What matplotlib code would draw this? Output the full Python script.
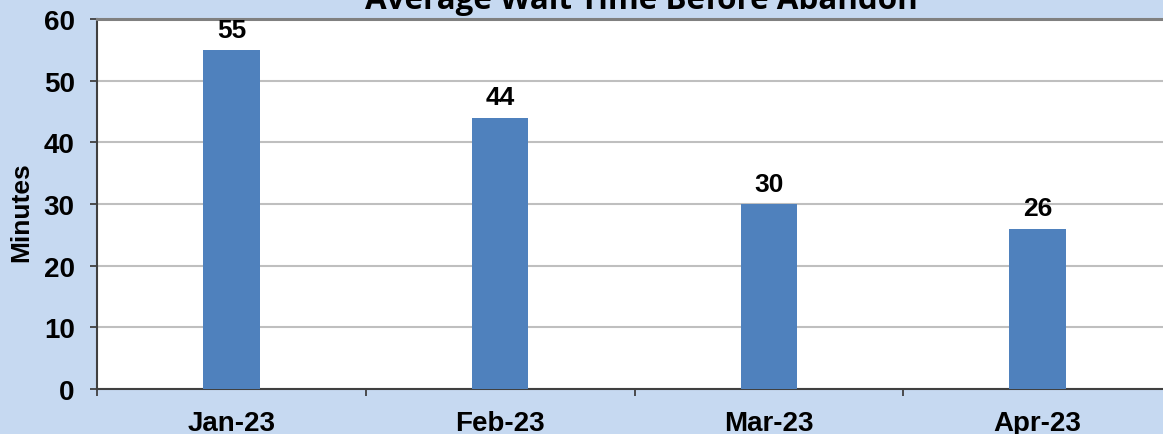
import matplotlib
matplotlib.use("Agg")
import matplotlib.pyplot as plt
from matplotlib.ticker import FixedLocator, NullFormatter

categories = ["Jan-23", "Feb-23", "Mar-23", "Apr-23"]
values = [55, 44, 30, 26]
yticks = [0, 10, 20, 30, 40, 50, 60]
title = "Average Wait Time Before Abandon"

W, H = 1163, 435
DPI = 100
bg = "#C6D9F1"
bar_color = "#4F81BD"

fig = plt.figure(figsize=(W / DPI, H / DPI), dpi=DPI, facecolor=bg)
ax = fig.add_axes([97 / W, 45 / H, 1075 / W, 370 / H])
ax.set_facecolor("white")

x = list(range(len(categories)))
ax.bar(x, values, width=0.21, color=bar_color, zorder=3)

ax.set_xlim(-0.5, len(categories) - 0.5)
ax.set_ylim(0, 60)
ax.set_yticks(yticks)
ax.set_yticklabels([str(v) for v in yticks], fontfamily="Liberation Sans",
                   fontweight="bold", fontsize=20)
ax.set_xticks(x)
ax.set_xticklabels(categories, fontfamily="Liberation Sans", fontweight="bold",
                   fontsize=20)
ax.tick_params(axis="x", which="major", length=0, pad=15)
ax.xaxis.set_minor_locator(FixedLocator([i - 0.5 for i in range(len(categories) + 1)]))
ax.xaxis.set_minor_formatter(NullFormatter())
ax.tick_params(axis="x", which="minor", length=5, width=1.3, color="#404040", direction="out")
ax.tick_params(axis="y", length=5, width=1.3, color="#404040", pad=11)

ax.grid(axis="y", color="#BFBFBF", linewidth=1.5, zorder=0)
ax.set_axisbelow(True)

for s in ["left", "bottom"]:
    ax.spines[s].set_color("#404040")
    ax.spines[s].set_linewidth(1.5)
ax.spines["top"].set_color("#808080")
ax.spines["top"].set_linewidth(2.2)
ax.spines["right"].set_visible(False)

for xi, v in zip(x, values):
    ax.annotate(str(v), (xi, v), xytext=(0, 6), textcoords="offset points",
                ha="center", va="bottom", fontfamily="Liberation Sans",
                fontweight="bold", fontsize=19, color="black")

ax.set_ylabel("Minutes", fontfamily="Liberation Sans", fontweight="bold",
              fontsize=19, va="center")
ax.yaxis.set_label_coords(-76 / 1075, 0.48)

# title (clipped at top of figure)
t = fig.text(641 / W, 1 - 9 / H, title, ha="center", va="baseline",
             fontfamily="Open Sans", fontweight="bold", fontsize=20, color="black")
fig.canvas.draw()
r = fig.canvas.get_renderer()
wpx = t.get_window_extent(r).width
t.set_fontsize(20 * 553 / wpx)

fig.savefig("out.png", dpi=DPI, facecolor=bg)
